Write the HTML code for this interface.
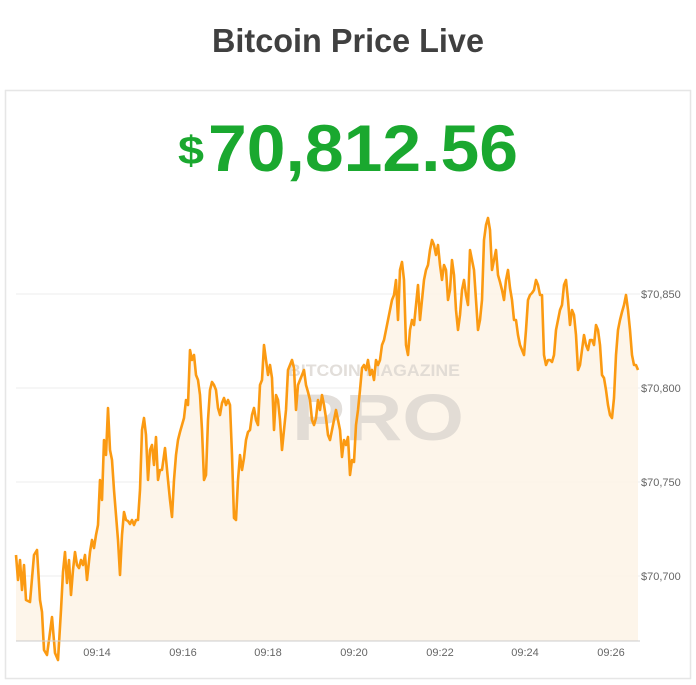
<!DOCTYPE html>
<html><head><meta charset="utf-8"><style>
html,body{margin:0;padding:0;background:#fff;}
svg{display:block;}
</style></head><body>
<svg width="696" height="685" viewBox="0 0 696 685" xmlns="http://www.w3.org/2000/svg" font-family="Liberation Sans, sans-serif">
<text x="348" y="52" text-anchor="middle" font-size="33" font-weight="bold" fill="#404040" textLength="272" lengthAdjust="spacingAndGlyphs">Bitcoin Price Live</text>
<rect x="5.5" y="90.5" width="685" height="588" fill="#fff" stroke="#e6e6e6" stroke-width="1.5"/>
<text x="178" y="164" font-size="40" font-weight="bold" fill="#1aa82f" textLength="26" lengthAdjust="spacingAndGlyphs">$</text>
<text x="208" y="171" font-size="66" font-weight="bold" fill="#1aa82f" textLength="310" lengthAdjust="spacingAndGlyphs">70,812.56</text>
<g stroke="#eeeeee" stroke-width="1">
<line x1="16" y1="294" x2="640" y2="294"/>
<line x1="16" y1="388" x2="640" y2="388"/>
<line x1="16" y1="482" x2="640" y2="482"/>
<line x1="16" y1="576" x2="640" y2="576"/>
</g>
<polygon fill="#fdf3e6" opacity="0.85" points="16,641 16,555 18,580 20,560 22,590 24,565 26,600 30,602 34,555 37,550 40,600 42,612 44,650 47,655 49,640 52,617 55,653 58,660 61,610 63,572 65,552 67,583 69,560 71,595 73,570 75,552 77,565 79,568 81,560 83,565 85,555 87,580 90,552 92,540 94,548 96,535 98,525 100,480 102,500 104,440 106,455 108,408 110,450 112,460 114,490 116,515 118,540 120,575 122,535 124,512 126,520 128,521 130,524 132,520 134,525 136,520 138,520 140,490 142,430 144,418 146,435 148,480 150,450 152,445 154,465 156,437 158,480 160,470 162,470 165,448 168,480 170,500 172,517 174,480 176,455 178,440 180,432 182,425 184,418 186,400 188,405 190,350 192,360 194,355 196,375 198,380 200,395 202,430 204,480 206,475 208,420 210,390 212,382 214,385 216,390 218,408 220,415 222,403 224,398 226,405 228,400 230,405 232,455 234,518 236,520 238,480 240,455 242,470 244,458 246,440 248,432 250,430 252,415 254,408 256,420 258,425 260,385 262,380 264,345 266,360 268,375 270,365 272,378 274,430 276,395 278,400 280,420 282,450 284,430 286,410 288,370 290,365 292,360 294,368 296,410 298,385 300,380 302,375 304,370 306,385 308,392 310,400 312,420 314,425 316,418 318,400 320,410 322,395 324,405 326,418 328,435 330,440 332,430 334,420 336,410 338,420 340,430 342,457 344,440 346,445 348,437 350,475 352,460 354,462 356,425 358,410 360,390 362,368 364,365 366,370 368,360 370,375 372,370 374,380 376,360 378,365 380,360 382,345 384,340 386,330 388,320 390,310 392,300 394,295 396,280 398,320 400,270 402,262 404,280 406,345 408,355 410,330 412,320 414,325 416,305 418,285 420,320 422,300 424,280 426,270 428,265 430,250 432,240 434,245 436,255 438,245 440,265 442,280 444,265 446,270 448,300 450,290 452,260 454,275 456,310 458,330 460,315 462,290 464,280 466,295 468,305 470,250 472,260 474,270 476,300 478,330 480,320 482,300 484,240 486,225 488,218 490,230 492,270 494,260 496,250 498,275 500,282 502,290 504,300 506,280 508,270 510,288 512,300 514,320 516,320 518,335 520,345 522,350 524,355 526,330 528,300 530,295 532,293 534,290 536,280 538,285 540,295 542,295 544,355 546,365 548,360 550,360 552,362 554,355 556,330 558,320 560,310 562,305 564,285 566,280 568,300 570,325 572,310 574,315 576,335 578,370 580,365 582,350 584,335 586,345 588,350 590,340 592,340 594,345 596,325 598,330 600,345 602,375 604,378 606,390 608,405 610,415 612,418 614,398 616,355 618,330 620,320 622,312 624,305 626,295 628,310 630,330 632,355 634,365 636,365 638,370 638,641"/>
<g opacity="0.75" font-weight="bold" fill="#d9d4ce">
<text x="288" y="376" font-size="17" textLength="172" lengthAdjust="spacingAndGlyphs">BITCOIN MAGAZINE</text>
<text x="292" y="440" font-size="66" textLength="172" lengthAdjust="spacingAndGlyphs">PRO</text>
</g>
<polyline fill="none" stroke="#fb9a12" stroke-width="2.6" stroke-linejoin="round" points="16,555 18,580 20,560 22,590 24,565 26,600 30,602 34,555 37,550 40,600 42,612 44,650 47,655 49,640 52,617 55,653 58,660 61,610 63,572 65,552 67,583 69,560 71,595 73,570 75,552 77,565 79,568 81,560 83,565 85,555 87,580 90,552 92,540 94,548 96,535 98,525 100,480 102,500 104,440 106,455 108,408 110,450 112,460 114,490 116,515 118,540 120,575 122,535 124,512 126,520 128,521 130,524 132,520 134,525 136,520 138,520 140,490 142,430 144,418 146,435 148,480 150,450 152,445 154,465 156,437 158,480 160,470 162,470 165,448 168,480 170,500 172,517 174,480 176,455 178,440 180,432 182,425 184,418 186,400 188,405 190,350 192,360 194,355 196,375 198,380 200,395 202,430 204,480 206,475 208,420 210,390 212,382 214,385 216,390 218,408 220,415 222,403 224,398 226,405 228,400 230,405 232,455 234,518 236,520 238,480 240,455 242,470 244,458 246,440 248,432 250,430 252,415 254,408 256,420 258,425 260,385 262,380 264,345 266,360 268,375 270,365 272,378 274,430 276,395 278,400 280,420 282,450 284,430 286,410 288,370 290,365 292,360 294,368 296,410 298,385 300,380 302,375 304,370 306,385 308,392 310,400 312,420 314,425 316,418 318,400 320,410 322,395 324,405 326,418 328,435 330,440 332,430 334,420 336,410 338,420 340,430 342,457 344,440 346,445 348,437 350,475 352,460 354,462 356,425 358,410 360,390 362,368 364,365 366,370 368,360 370,375 372,370 374,380 376,360 378,365 380,360 382,345 384,340 386,330 388,320 390,310 392,300 394,295 396,280 398,320 400,270 402,262 404,280 406,345 408,355 410,330 412,320 414,325 416,305 418,285 420,320 422,300 424,280 426,270 428,265 430,250 432,240 434,245 436,255 438,245 440,265 442,280 444,265 446,270 448,300 450,290 452,260 454,275 456,310 458,330 460,315 462,290 464,280 466,295 468,305 470,250 472,260 474,270 476,300 478,330 480,320 482,300 484,240 486,225 488,218 490,230 492,270 494,260 496,250 498,275 500,282 502,290 504,300 506,280 508,270 510,288 512,300 514,320 516,320 518,335 520,345 522,350 524,355 526,330 528,300 530,295 532,293 534,290 536,280 538,285 540,295 542,295 544,355 546,365 548,360 550,360 552,362 554,355 556,330 558,320 560,310 562,305 564,285 566,280 568,300 570,325 572,310 574,315 576,335 578,370 580,365 582,350 584,335 586,345 588,350 590,340 592,340 594,345 596,325 598,330 600,345 602,375 604,378 606,390 608,405 610,415 612,418 614,398 616,355 618,330 620,320 622,312 624,305 626,295 628,310 630,330 632,355 634,365 636,365 638,370"/>
<line x1="16" y1="641" x2="640" y2="641" stroke="#ccc" stroke-width="1"/>
<g font-size="11" fill="#666" text-anchor="middle">
<text x="97" y="656">09:14</text>
<text x="183" y="656">09:16</text>
<text x="268" y="656">09:18</text>
<text x="354" y="656">09:20</text>
<text x="440" y="656">09:22</text>
<text x="525" y="656">09:24</text>
<text x="611" y="656">09:26</text>
</g>
<g font-size="11" fill="#666">
<text x="641" y="298">$70,850</text>
<text x="641" y="392">$70,800</text>
<text x="641" y="486">$70,750</text>
<text x="641" y="580">$70,700</text>
</g>
</svg>
</body></html>
